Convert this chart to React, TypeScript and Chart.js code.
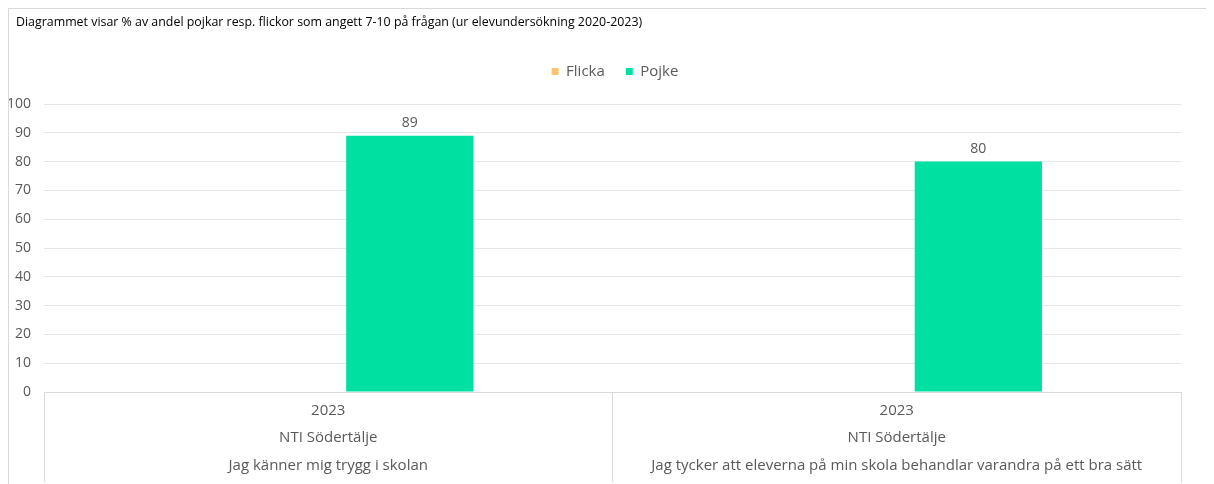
import React, { useEffect, useRef } from "react";
import { Chart, registerables } from "chart.js";

Chart.register(...registerables);

const titleText =
  "Diagrammet visar % av andel pojkar resp. flickor som angett 7-10 på frågan (ur elevundersökning 2020-2023)";
const categories: string[][] = [
  ["2023", "NTI Södertälje", "Jag känner mig trygg i skolan"],
  ["2023", "NTI Södertälje", "Jag tycker att eleverna på min skola behandlar varandra på ett bra sätt"],
];
const seriesNames = ["Flicka", "Pojke"];
const flickaValues: (number | null)[] = [null, null];
const pojkeValues: (number | null)[] = [89, 80];
const seriesColors = ["#FFC36E", "#00E0A0"];

const FONT = "'Open Sans', Lato, sans-serif";
const GRAY = "#595959";

const valueLabels = {
  id: "valueLabels",
  afterDatasetsDraw(chart: any) {
    const ctx = chart.ctx;
    ctx.save();
    ctx.font = `14px ${FONT}`;
    ctx.fillStyle = GRAY;
    ctx.textAlign = "center";
    ctx.textBaseline = "middle";
    chart.data.datasets.forEach((ds: any, di: number) => {
      const meta = chart.getDatasetMeta(di);
      meta.data.forEach((el: any, i: number) => {
        const v = ds.data[i];
        if (v === null || v === undefined) return;
        ctx.fillText(String(v), el.x, el.y - 13);
      });
    });
    ctx.restore();
  },
};

const legendGap = {
  id: "legendGap",
  beforeInit(chart: any) {
    const legend = chart.legend;
    if (!legend) return;
    const origFit = legend.fit;
    legend.fit = function () {
      origFit.call(this);
      this.height += 15;
    };
  },
  afterLayout(chart: any) {
    if (chart.legend) chart.legend.left += 40;
  },
};

export default function App() {
  const ref = useRef<HTMLCanvasElement | null>(null);
  useEffect(() => {
    if (!ref.current) return;
    const chart = new Chart(ref.current, {
      type: "bar",
      data: {
        labels: categories,
        datasets: [
          {
            label: seriesNames[0],
            data: flickaValues,
            backgroundColor: seriesColors[0],
            categoryPercentage: 0.574,
            barPercentage: 0.78,
          },
          {
            label: seriesNames[1],
            data: pojkeValues,
            backgroundColor: seriesColors[1],
            categoryPercentage: 0.574,
            barPercentage: 0.78,
          },
        ],
      },
      options: {
        animation: false,
        responsive: true,
        maintainAspectRatio: false,
        layout: { padding: { left: 0, right: 25, top: 34, bottom: 0 } },
        plugins: {
          title: { display: false },
          legend: {
            display: true,
            position: "top",
            labels: {
              boxWidth: 7,
              boxHeight: 7,
              color: GRAY,
              font: { family: FONT, size: 15 },
              padding: 21,
            },
          },
          tooltip: { enabled: false },
        },
        scales: {
          x: {
            afterFit: (s: any) => {
              s.height = 92;
            },
            grid: {
              offset: true,
              drawOnChartArea: false,
              drawTicks: true,
              tickLength: 90,
              color: "#d9d9d9",
            },
            border: { display: true, color: "#d9d9d9" },
            ticks: {
              padding: -85,
              color: GRAY,
              font: { family: FONT, size: 15, lineHeight: 1.83 },
              maxRotation: 0,
              autoSkip: false,
            },
          },
          y: {
            min: 0,
            max: 100,
            afterFit: (s: any) => {
              s.width = 35;
            },
            grid: { color: "#e6e6e6", drawTicks: false },
            border: { display: false },
            ticks: {
              stepSize: 10,
              padding: 13,
              color: GRAY,
              font: { family: FONT, size: 14 },
            },
          },
        },
      },
      plugins: [valueLabels, legendGap],
    });
    return () => chart.destroy();
  }, []);

  return (
    <div
      style={{
        position: "relative",
        height: 476,
        borderTop: "1px solid #d9d9d9",
        borderLeft: "1px solid #d9d9d9",
        boxSizing: "border-box",
      }}
    >
      <div
        style={{
          position: "absolute",
          left: 7,
          top: 6,
          fontFamily: FONT,
          fontSize: 12.4,
          lineHeight: "14px",
          color: "#000000",
          whiteSpace: "nowrap",
        }}
      >
        {titleText}
      </div>
      <canvas ref={ref} />
    </div>
  );
}
